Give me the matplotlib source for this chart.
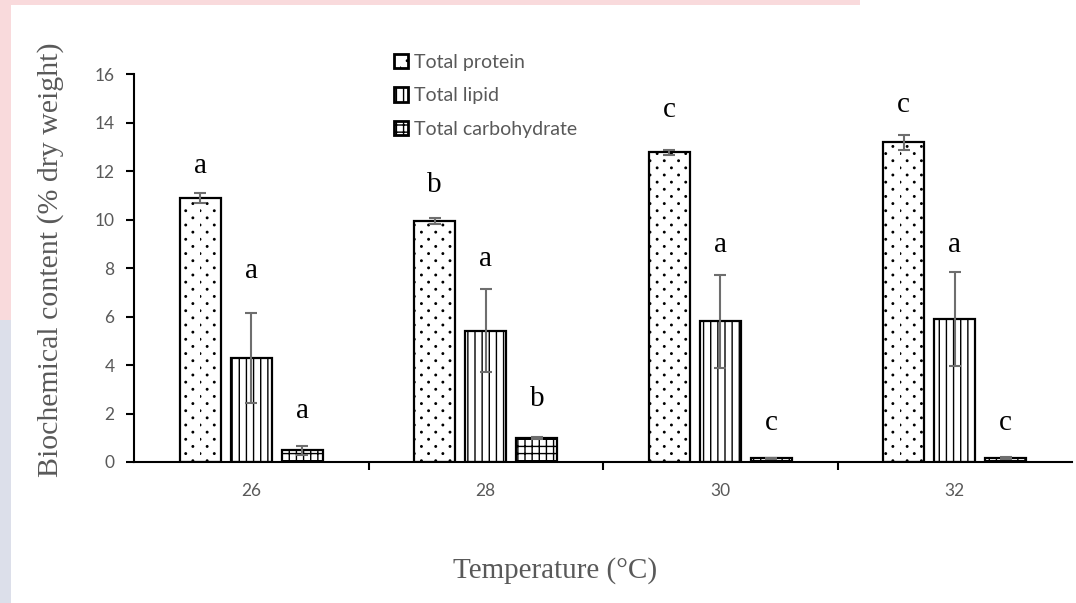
import matplotlib
matplotlib.use("Agg")
import matplotlib.pyplot as plt
import matplotlib.hatch as mhatch
from matplotlib.path import Path
from matplotlib.backend_bases import GraphicsContextBase
import numpy as np
from matplotlib.patches import Rectangle, Patch

temperatures = ["26", "28", "30", "32"]
series_names = ["Total protein", "Total lipid", "Total carbohydrate"]
protein = [10.9, 9.95, 12.78, 13.18]
protein_err = [0.2, 0.12, 0.1, 0.3]
lipid = [4.3, 5.42, 5.8, 5.9]
lipid_err = [1.85, 1.7, 1.92, 1.95]
carb = [0.48, 1.0, 0.15, 0.15]
carb_err = [0.18, 0.05, 0.03, 0.04]
protein_letters = ["a", "b", "c", "c"]
lipid_letters = ["a", "a", "a", "a"]
carb_letters = ["a", "b", "c", "c"]
protein_letter_y = [11.92, 11.13, 14.23, 14.43]
lipid_letter_y = [7.59, 8.08, 8.66, 8.66]
carb_letter_y = [1.81, 2.31, 1.32, 1.32]


# ---- custom sparse staggered dot hatch (used for '*') ----
class SparseDots(mhatch.HatchPatternBase):
    def __init__(self, hatch, density):
        n = hatch.count('*')
        self.rows = 14 * n
        self.cols = 7 * n
        self.circle = Path.unit_circle()
        self.num_vertices = self.rows * self.cols * len(self.circle.vertices) if n else 0

    def set_vertices_and_codes(self, vertices, codes):
        r = 0.0075
        cv = self.circle.vertices * r
        cc = self.circle.codes
        vparts, cparts = [], []
        for row in range(self.rows):
            shift = 0.0 if row % 2 == 0 else 0.5
            for k in range(self.cols):
                vparts.append(cv + [(k + shift) / self.cols, (row + 0.5) / self.rows])
                cparts.append(cc)
        np.concatenate(vparts, out=vertices)
        np.concatenate(cparts, out=codes)


mhatch._hatch_types = [SparseDots if c is mhatch.Stars else c for c in mhatch._hatch_types]
_orig_ghp = GraphicsContextBase.get_hatch_path


def _ghp(self, density=7.0):
    return _orig_ghp(self, 7.0)


GraphicsContextBase.get_hatch_path = _ghp

plt.rcParams['hatch.linewidth'] = 1.0
fig = plt.figure(figsize=(10.76, 6.03), dpi=100)

# watermark-ish background strips
fig.patches.append(Rectangle((0, 1 - 5/603), 860/1076, 5/603, transform=fig.transFigure,
                             facecolor="#f9dadc", edgecolor="none", zorder=0))
fig.patches.append(Rectangle((0, 1 - 320/603), 11/1076, 320/603, transform=fig.transFigure,
                             facecolor="#f9dadc", edgecolor="none", zorder=0))
fig.patches.append(Rectangle((0, 0), 11/1076, 283/603, transform=fig.transFigure,
                             facecolor="#dcdfea", edgecolor="none", zorder=0))

ax = fig.add_axes([134/1076, (603-462)/603, (1072-134)/1076, (462-74)/603])
x = np.arange(len(temperatures))
w = 0.175
off = 0.218
hatches = ['*', '||', '++']
series = [(protein, protein_err, protein_letters, protein_letter_y),
          (lipid, lipid_err, lipid_letters, lipid_letter_y),
          (carb, carb_err, carb_letters, carb_letter_y)]
err_color = "#6e6e6e"
for i, (vals, errs, letters, ly) in enumerate(series):
    pos = x + (i - 1) * off
    ax.bar(pos, vals, width=w, color="white", edgecolor="black", hatch=hatches[i],
           linewidth=1.6, label=series_names[i], zorder=2)
    ax.errorbar(pos, vals, yerr=errs, fmt='none', ecolor=err_color, elinewidth=1.5,
                capsize=4.5, capthick=1.5, zorder=3)
    for p, l, yy in zip(pos, letters, ly):
        ax.text(p, yy, l, ha='center', va='baseline', fontsize=21,
                family='Liberation Serif', color='black')

ax.set_xlim(-0.5, 3.5)
ax.set_ylim(0, 16)
ax.set_yticks(np.arange(0, 17, 2))
ax.set_xticks(x)
ax.set_xticklabels(temperatures)
ax.set_xticks([0.5, 1.5, 2.5], minor=True)
ax.tick_params(axis='x', which='major', length=0, pad=15)
ax.tick_params(axis='x', which='minor', length=6, width=1.5, direction='out')
ax.tick_params(axis='y', length=6, width=1.5, direction='out', pad=8)
for lab in ax.get_xticklabels() + ax.get_yticklabels():
    lab.set_family('Lato')
    lab.set_fontsize(12.5)
    lab.set_color('#595959')
for s in ['top', 'right']:
    ax.spines[s].set_visible(False)
for s in ['left', 'bottom']:
    ax.spines[s].set_linewidth(1.5)

fig.text(51/1076, 1 - 260/603, "Biochemical content (% dry weight)", rotation=90,
         ha='center', va='center', fontsize=21.5, family='Liberation Serif', color='#595959')
fig.text(555/1076, 1 - 571/603, "Temperature (°C)", ha='center', va='center',
         fontsize=21, family='Liberation Serif', color='#595959')

handles = [Patch(facecolor='white', edgecolor='black', hatch=h, linewidth=2)
           for h in hatches]
leg = fig.legend(handles, series_names, loc='upper left', bbox_to_anchor=(384/1076, 1 - 44/603),
                 frameon=False, borderpad=0, handlelength=0.75, handleheight=0.75,
                 handletextpad=0.3, labelspacing=0.85, prop={'family': 'Lato', 'size': 14})
for t in leg.get_texts():
    t.set_color('#595959')

fig.savefig("out.png", dpi=100)
